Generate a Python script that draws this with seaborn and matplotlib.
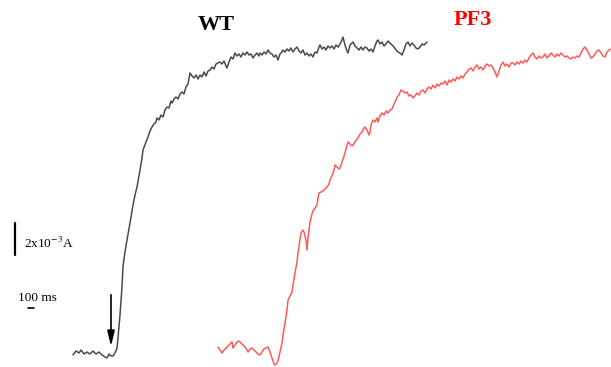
import matplotlib
matplotlib.use("Agg")
import matplotlib.pyplot as plt
import seaborn as sns
import pandas as pd

# Traces (x: time axis, y: signal, both in picture units; y grows downward)
wt_x = [73,76,79,81,84,87,90,93,96,99,102,105,107,109,111,113,115,117,118,120,122,123,125,127,130,133,135,137,140,142,143,146,148,150,152,154,156,157,159,161,163,165,167,169,171,172,174,176,178,180,182,184,186,188,190,192,194,196,198,200,202,204,206,208,210,212,214,216,218,220,222,224,226,227,229,231,233,235,237,239,241,243,245,247,249,251,253,255,257,259,260,262,264,266,268,270,272,274,276,278,280,282,283,285,287,289,291,293,295,297,299,301,303,305,307,309,311,313,315,317,319,320,322,324,326,328,330,332,334,336,338,340,342,343,345,347,348,350,352,353,355,357,359,361,363,365,367,369,371,373,375,377,378,380,382,384,386,388,390,392,394,396,398,400,402,404,406,408,410,412,414,416,418,420,422,424,427]
wt_y = [355,351,353,350,354,352,354,351,354,352,355,357,358,354,356,356,353,348,338,315,287,266,252,240,223,205,195,187,170,158,150,142,137,131,127,124,122,118,120,115,117,110,107,108,101,103,99,97,99,94,92,94,87,84,73,76,78,75,79,75,77,72,76,71,70,67,69,64,63,62,64,61,66,68,62,57,59,53,56,54,57,53,55,52,55,54,58,55,53,56,53,55,52,54,50,53,54,57,55,60,54,52,50,52,49,51,48,52,49,47,51,53,50,55,53,56,54,57,52,53,47,45,49,47,50,46,48,46,49,45,47,44,40,37,45,51,53,45,43,42,46,48,50,47,50,47,48,51,49,52,46,41,40,44,42,46,44,41,43,45,47,50,52,53,55,50,44,42,46,43,45,48,49,47,44,45,42]

pf3_x = [218,220,222,224,227,229,231,232,233,235,237,239,241,243,245,247,248,250,252,254,256,258,260,262,264,266,268,270,272,274,275,277,278,280,282,283,285,287,288,290,292,293,295,297,298,300,301,303,304,306,307,308,310,312,313,315,317,318,319,321,323,325,327,329,330,332,334,335,337,339,340,342,344,345,347,348,350,352,353,355,357,358,360,362,364,365,367,369,370,371,373,375,377,378,380,382,384,386,388,390,392,394,396,397,399,401,403,405,407,409,411,413,415,417,419,421,423,425,427,429,431,433,435,437,439,441,443,445,447,449,451,453,455,457,459,461,463,465,467,469,471,473,475,477,479,481,483,485,487,489,491,493,495,497,499,501,503,505,507,509,511,513,515,517,519,521,523,525,527,529,531,533,535,537,539,541,543,545,547,549,551,553,555,557,559,561,563,565,567,569,571,573,575,577,579,581,583,585,587,589,591,593,595,597,599,601,603,605,607,609,611]
pf3_y = [347,350,353,350,347,345,343,342,348,345,342,341,343,345,347,350,352,349,348,350,352,354,355,352,349,348,347,352,358,364,365,363,361,352,343,335,323,310,300,296,292,285,273,262,253,240,233,230,232,240,250,238,222,214,211,208,205,198,193,192,191,189,187,184,180,176,170,165,167,169,168,162,156,153,145,142,144,146,145,142,139,138,134,132,128,127,130,135,132,125,120,122,118,122,116,113,115,111,113,110,109,104,100,97,95,90,91,93,92,96,95,98,96,93,95,91,90,93,89,87,89,85,88,84,86,83,84,81,85,80,82,79,81,77,79,76,78,74,72,69,68,71,67,65,69,67,70,66,64,66,65,68,72,77,71,65,62,66,64,67,63,63,65,62,64,61,63,60,62,58,55,53,57,59,56,58,57,54,58,56,53,55,57,54,56,53,55,57,56,58,59,57,58,56,57,53,49,47,50,54,58,57,54,51,50,53,56,57,52,50,49]

df_wt = pd.DataFrame({"x": wt_x, "y": wt_y})
df_pf3 = pd.DataFrame({"x": pf3_x, "y": pf3_y})

sns.set_theme(style="white")
plt.rcParams["font.family"] = ["Liberation Serif", "DejaVu Serif"]
plt.rcParams["mathtext.fontset"] = "stix"

fig = plt.figure(figsize=(6.11, 3.67), dpi=100)
ax = fig.add_axes([0, 0, 1, 1])
sns.lineplot(data=df_wt, x="x", y="y", ax=ax, color="#4a4a4a", lw=1.1, sort=False, estimator=None)
sns.lineplot(data=df_pf3, x="x", y="y", ax=ax, color="#ff5a5a", lw=1.1, sort=False, estimator=None)
ax.set_xlim(0, 611)
ax.set_ylim(367, 0)
ax.axis("off")

ax.text(216, 25, "WT", fontsize=16, fontweight="bold", color="black", ha="center", va="center")
ax.text(473, 20, "PF3", fontsize=16, fontweight="bold", color="#ff0000", ha="center", va="center")

# scale bars
ax.plot([15, 15], [223, 255], color="black", lw=1.6)
ax.text(24, 243, r"2x10$^{-3}$A", fontsize=9.5, color="black", ha="left", va="center")
ax.plot([28, 34], [308, 308], color="black", lw=1.2)
ax.text(18, 298, "100 ms", fontsize=9.5, color="black", ha="left", va="center")

# stimulus arrow
ax.annotate("", xy=(111, 349), xytext=(111, 292),
            arrowprops=dict(arrowstyle="-|>,head_width=0.22,head_length=0.9",
                            color="black", lw=1.2, mutation_scale=10))

fig.savefig("out.png", dpi=100)
